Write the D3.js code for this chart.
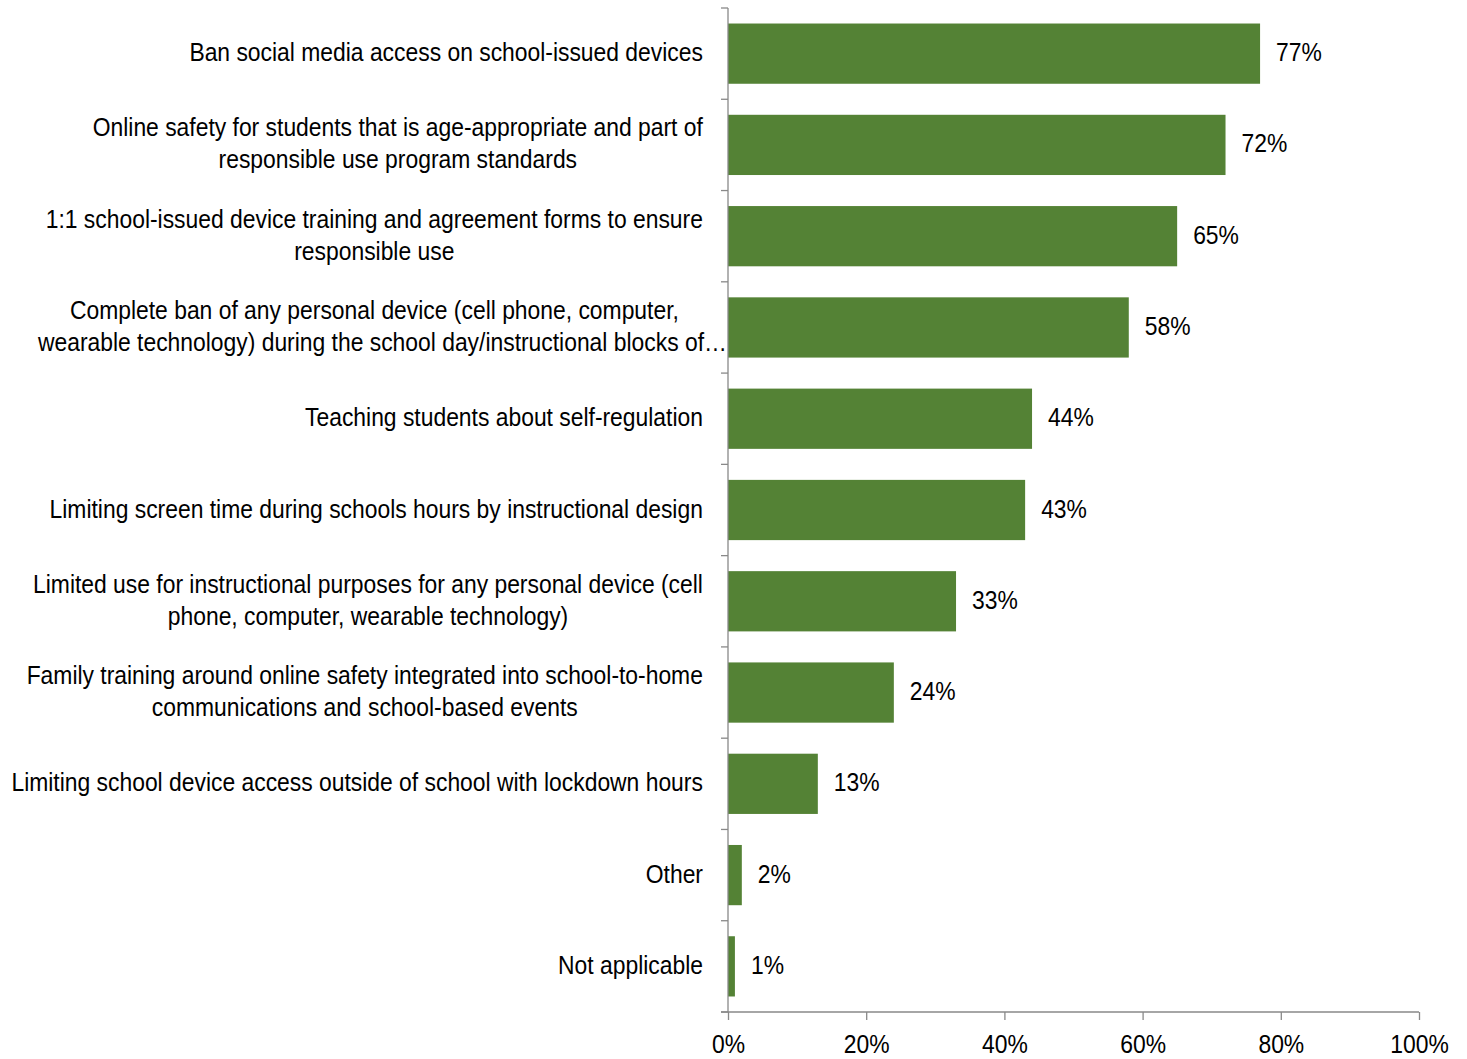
<!DOCTYPE html>
<html>
<head>
<meta charset="utf-8">
<script src="https://cdn.jsdelivr.net/npm/d3@7"></script>
<style>
  body { margin: 0; background: #fff; }
  svg text { font-family: "Liberation Sans", Arial, sans-serif; fill: #000; }
</style>
</head>
<body>
<div id="chart"></div>
<script>
// categories, top to bottom (each entry = label lines)
const categories = [
  ["Ban social media access on school-issued devices"],
  ["Online safety for students that is age-appropriate and part of", "responsible use program standards"],
  ["1:1 school-issued device training and agreement forms to ensure", "responsible use"],
  ["Complete ban of any personal device (cell phone, computer,", "wearable technology) during the school day/instructional blocks of\u2026"],
  ["Teaching students about self-regulation"],
  ["Limiting screen time during schools hours by instructional design"],
  ["Limited use for instructional purposes for any personal device (cell", "phone, computer, wearable technology)"],
  ["Family training around online safety integrated into school-to-home", "communications and school-based events"],
  ["Limiting school device access outside of school with lockdown hours"],
  ["Other"],
  ["Not applicable"]
];
const values = [77, 72, 65, 58, 44, 43, 33, 24, 13, 2, 1];
const xTicks = [0, 20, 40, 60, 80, 100];

const W = 1467, H = 1059;
const margin = { top: 8, right: 48, bottom: 47, left: 728 };
const width = W - margin.left - margin.right;
const height = H - margin.top - margin.bottom;
const axisColor = "#898989";
const barColor = "#548235";
const fontSize = 25;
const narrow = 0.915; // squeeze to mimic a narrow face

const svg = d3.select("#chart").append("svg")
    .attr("width", W)
    .attr("height", H)
  .append("g")
    .attr("transform", "translate(" + margin.left + "," + margin.top + ")");

const keys = categories.map((c, i) => i);

const x = d3.scaleLinear().domain([0, 100]).range([0, width]);
const y = d3.scaleBand().domain(keys).range([0, height]).paddingInner(0.34).paddingOuter(0.17);

// bars
svg.selectAll(".bar")
  .data(values)
  .join("rect")
    .attr("class", "bar")
    .attr("x", x(0))
    .attr("y", (d, i) => y(i))
    .attr("width", d => x(d) - x(0))
    .attr("height", y.bandwidth())
    .attr("fill", barColor);

// value labels
svg.selectAll(".val")
  .data(values)
  .join("text")
    .attr("class", "val")
    .attr("transform", (d, i) => "translate(" + (x(d) + 16) + "," + (y(i) + y.bandwidth() / 2) + ") scale(" + narrow + ",1)")
    .attr("dy", "0.3em")
    .attr("font-size", fontSize)
    .text(d => d + "%");

// category axis: line + ticks at band boundaries
const step = y.step();
svg.append("line")
  .attr("x1", 0).attr("x2", 0)
  .attr("y1", 0).attr("y2", height)
  .attr("stroke", axisColor).attr("stroke-width", 1.3);

svg.selectAll(".ytick")
  .data(d3.range(categories.length + 1))
  .join("line")
    .attr("class", "ytick")
    .attr("x1", -7).attr("x2", 0)
    .attr("y1", i => i * step).attr("y2", i => i * step)
    .attr("stroke", axisColor).attr("stroke-width", 1.3);

// category labels (lines centered on each other, block right-aligned)
const labelRight = -25;
const lh = 32;
categories.forEach((lines, i) => {
  const g = svg.append("g");
  const cy = y(i) + y.bandwidth() / 2;
  const texts = lines.map(line =>
    g.append("text")
      .attr("font-size", fontSize)
      .attr("dy", "0.3em")
      .attr("text-anchor", "middle")
      .text(line)
  );
  const widths = texts.map(t => t.node().getComputedTextLength() * narrow);
  const cut = lines.findIndex(l => l.endsWith("\u2026"));
  // truncated line runs right up to the axis; the others center near it
  const center = cut >= 0 ? -1 - widths[cut] / 2 - 8 : labelRight - d3.max(widths) / 2;
  texts.forEach((t, j) => {
    const ty = cy + (j - (lines.length - 1) / 2) * lh;
    const cx = (cut === j) ? -1 - widths[j] / 2 : center;
    t.attr("transform", "translate(" + cx + "," + ty + ") scale(" + narrow + ",1)");
  });
});

// bottom axis
const xAxis = d3.axisBottom(x)
  .tickValues(xTicks)
  .tickSize(8)
  .tickFormat(d => d + "%");

const gx = svg.append("g")
  .attr("transform", "translate(0," + height + ")")
  .attr("font-family", null)
  .call(xAxis);
gx.select(".domain").attr("stroke", axisColor).attr("stroke-width", 1.3)
  .attr("d", "M-7,0H" + width);
gx.selectAll(".tick line").attr("stroke", axisColor).attr("stroke-width", 1.3);
gx.selectAll(".tick text")
  .attr("font-size", fontSize)
  .attr("fill", "#000")
  .attr("y", 0)
  .attr("dy", 0)
  .attr("transform", "translate(0,41) scale(" + narrow + ",1)");
</script>
</body>
</html>
